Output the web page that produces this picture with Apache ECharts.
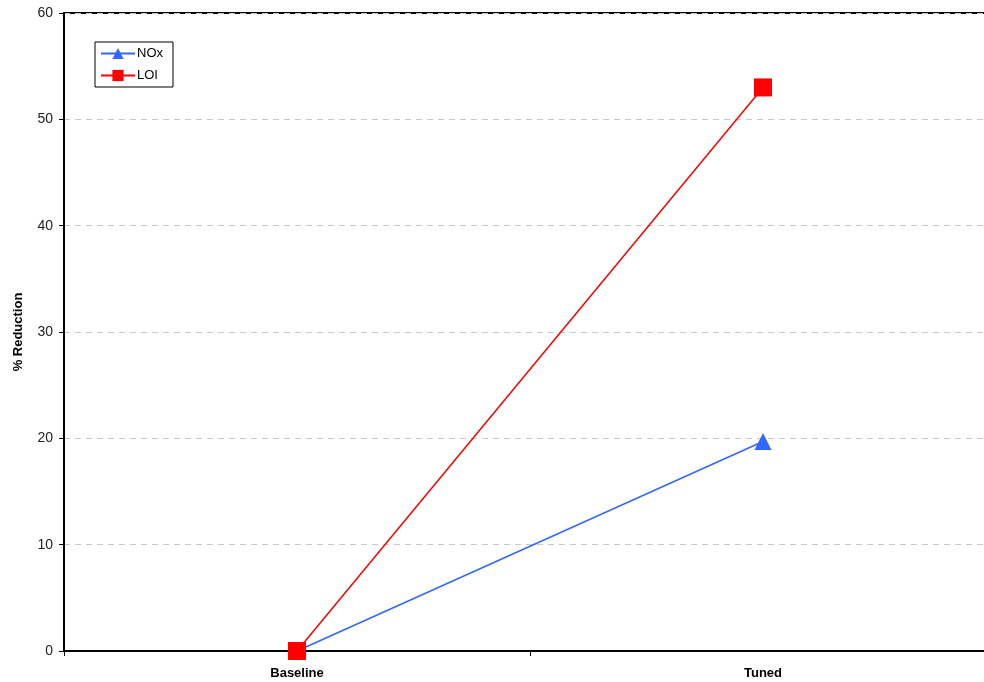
<!DOCTYPE html>
<html>
<head>
<meta charset="utf-8">
<script src="https://cdn.jsdelivr.net/npm/echarts@6/dist/echarts.min.js"></script>
<style>
  html, body { margin: 0; padding: 0; background: #fff; }
  #chart { width: 984px; height: 682px; }
</style>
</head>
<body>
<div id="chart"></div>
<script>
// Emission reduction: baseline vs tuned operation
const categories = ['Baseline', 'Tuned'];
const noxValues = [0, 19.7];
const loiValues = [0, 53];
const yTicks = { min: 0, max: 60, interval: 10 };

const chart = echarts.init(document.getElementById('chart'));
const font = 'Liberation Sans, Arial, sans-serif';

chart.setOption({
  backgroundColor: '#ffffff',
  animation: false,
  textStyle: { fontFamily: font },
  grid: {
    left: 64, top: 13, width: 932, height: 638,
    outerBoundsMode: 'none',
    containLabel: false,
    show: true, borderColor: '#000', borderWidth: 2, backgroundColor: '#fff'
  },
  legend: {
    left: 95, top: 42,
    orient: 'vertical',
    borderColor: '#000', borderWidth: 1,
    padding: [5, 10, 5, 5],
    itemGap: 9,
    itemWidth: 34, itemHeight: 14,
    textStyle: { fontSize: 13, color: '#000', fontFamily: font, padding: [0, 0, 0, -3] },
    data: ['NOx', 'LOI']
  },
  xAxis: {
    type: 'category',
    data: categories,
    boundaryGap: true,
    axisLine: { lineStyle: { color: '#000', width: 2 } },
    axisTick: { show: true, length: 5, lineStyle: { color: '#000' } },
    axisLabel: { fontWeight: 'bold', fontSize: 13, color: '#000', margin: 16, fontFamily: font }
  },
  yAxis: {
    type: 'value',
    min: yTicks.min, max: yTicks.max, interval: yTicks.interval,
    name: '% Reduction',
    nameLocation: 'middle',
    nameGap: 39,
    nameTextStyle: { fontWeight: 'bold', fontSize: 13, color: '#000', fontFamily: font },
    axisLine: { show: true, lineStyle: { color: '#000', width: 2 } },
    axisTick: { show: true, length: 5, lineStyle: { color: '#000' } },
    axisLabel: { fontSize: 14, color: '#222', margin: 11, fontFamily: font },
    splitLine: {
      show: true,
      lineStyle: { color: '#c8c8c8', type: [6, 5], width: 1 }
    }
  },
  series: [
    {
      name: 'NOx',
      type: 'line',
      data: noxValues,
      clip: false,
      symbol: 'triangle',
      symbolSize: 17,
      lineStyle: { color: '#3366ff', width: 1.5 },
      itemStyle: { color: '#3366ff' },
      z: 2
    },
    {
      name: 'LOI',
      type: 'line',
      data: loiValues,
      clip: false,
      symbol: 'rect',
      symbolSize: 18,
      lineStyle: { color: '#ff0000', width: 1.5 },
      itemStyle: { color: '#ff0000' },
      z: 3
    }
  ]
});
</script>
</body>
</html>
